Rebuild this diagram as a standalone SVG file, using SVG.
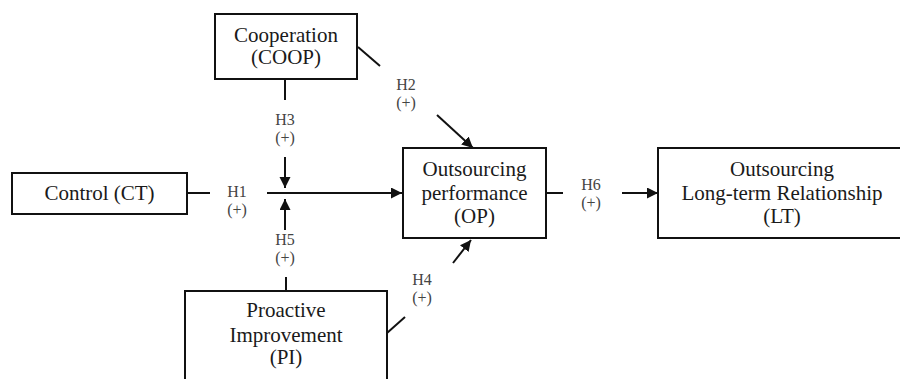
<svg xmlns="http://www.w3.org/2000/svg" width="900" height="379" viewBox="0 0 900 379">
<defs>
<marker id="ah" markerUnits="userSpaceOnUse" markerWidth="12" markerHeight="12" refX="11" refY="5.5" orient="auto">
<path d="M0,0 L11,5.5 L0,11 z" fill="#111"/>
</marker>
<style>
.box{fill:#fff;stroke:#111;stroke-width:2}
.t{font-size:21px;fill:#1a1a1a;text-anchor:middle}
.s{font-size:16px;fill:#444;text-anchor:middle}
.ln{stroke:#111;stroke-width:2;fill:none}
</style>
</defs>
<rect width="900" height="379" fill="#fff"/>
<g id="connectors" font-family="Liberation Serif, DejaVu Serif, Times New Roman, serif">
<line class="ln" x1="358" y1="47" x2="380" y2="66"/>
<line class="ln" x1="437" y1="115" x2="473" y2="148" marker-end="url(#ah)"/>
<line class="ln" x1="285" y1="79" x2="285" y2="100"/>
<line class="ln" x1="285" y1="157" x2="285" y2="188" marker-end="url(#ah)"/>
<line class="ln" x1="187" y1="193" x2="210" y2="193"/>
<line class="ln" x1="267" y1="193" x2="402" y2="193" marker-end="url(#ah)"/>
<line class="ln" x1="285" y1="230" x2="285" y2="199" marker-end="url(#ah)"/>
<line class="ln" x1="286" y1="277" x2="286" y2="291"/>
<line class="ln" x1="387" y1="333" x2="405" y2="317"/>
<line class="ln" x1="453" y1="263" x2="471" y2="240" marker-end="url(#ah)"/>
<line class="ln" x1="546" y1="193" x2="563" y2="193"/>
<line class="ln" x1="622" y1="193" x2="658" y2="193" marker-end="url(#ah)"/>
<text class="s" x="406" y="90">H2</text><text class="s" x="406" y="108">(+)</text>
<text class="s" x="285" y="125">H3</text><text class="s" x="285" y="143">(+)</text>
<text class="s" x="237" y="197">H1</text><text class="s" x="237" y="215">(+)</text>
<text class="s" x="285" y="245">H5</text><text class="s" x="285" y="263">(+)</text>
<text class="s" x="422" y="285">H4</text><text class="s" x="422" y="303">(+)</text>
<text class="s" x="591" y="190">H6</text><text class="s" x="591" y="208">(+)</text>
</g>
<g font-family="Liberation Serif, DejaVu Serif, Times New Roman, serif">
<g id="coop">
<rect class="box" x="215" y="14" width="142" height="65"/>
<text class="t" x="286" y="42">Cooperation</text>
<text class="t" x="286" y="64">(COOP)</text>
</g>
<g id="ct">
<rect class="box" x="12" y="173" width="175" height="41"/>
<text class="t" x="99.5" y="200">Control (CT)</text>
</g>
<g id="op">
<rect class="box" x="403" y="148" width="143" height="90"/>
<text class="t" x="474.5" y="176">Outsourcing</text>
<text class="t" x="474.5" y="200">performance</text>
<text class="t" x="474.5" y="223">(OP)</text>
</g>
<g id="lt">
<rect class="box" x="658" y="148" width="248" height="90"/>
<text class="t" x="782" y="176">Outsourcing</text>
<text class="t" x="782" y="200">Long-term Relationship</text>
<text class="t" x="782" y="223">(LT)</text>
</g>
<g id="pi">
<rect class="box" x="185" y="291" width="202" height="100"/>
<text class="t" x="286" y="317">Proactive</text>
<text class="t" x="286" y="342">Improvement</text>
<text class="t" x="286" y="364">(PI)</text>
</g>
</g>
</svg>
